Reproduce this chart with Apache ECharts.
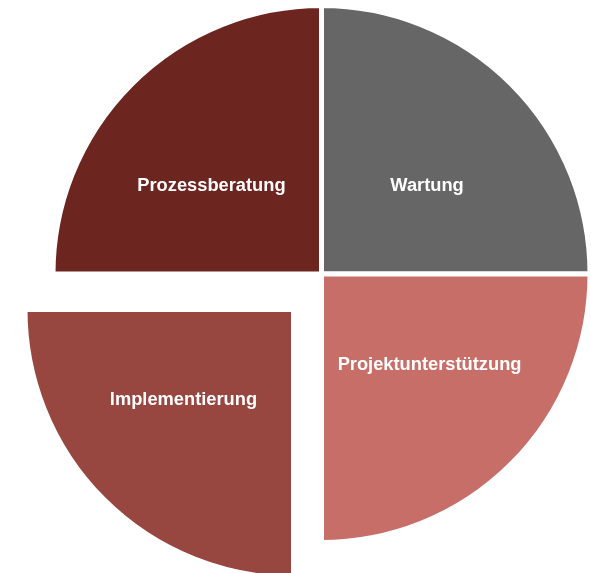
<!DOCTYPE html>
<html>
<head>
<meta charset="utf-8">
<script src="https://cdn.jsdelivr.net/npm/echarts@6/dist/echarts.min.js"></script>
<style>
html,body{margin:0;padding:0;background:#fff;}
#chart{width:591px;height:573px;}
</style>
</head>
<body>
<div id="chart"></div>
<script>
// Data
const categories = ['Wartung', 'Projektunterstützung', 'Implementierung', 'Prozessberatung'];
const values = [25, 25, 25, 25];
const explodedCategory = 'Implementierung';

// Styles
const colors = ['#666666', '#C86E68', '#984640', '#6D2520'];
const labelDx = [8.5, 11, -13, -13];
const labelDy = [9.5, -6, -6.5, 9.5];

const chart = echarts.init(document.getElementById('chart'), null, {renderer: 'canvas'});

function buildData(showExploded) {
  return categories.map((name, i) => {
    const isExp = name === explodedCategory;
    const visible = showExploded ? isExp : !isExp;
    return {
      name: name,
      value: values[i],
      itemStyle: visible
        ? {color: colors[i], borderColor: '#ffffff', borderWidth: 5}
        : {color: 'rgba(0,0,0,0)', borderWidth: 0},
      label: {show: visible}
    };
  });
}

const commonSeries = {
  type: 'pie',
  radius: 268.5,
  startAngle: 90,
  clockwise: true,
  avoidLabelOverlap: false,
  silent: true,
  animation: false,
  label: {
    show: true,
    position: 'inside',
    color: '#ffffff',
    fontFamily: 'Liberation Sans, Arial, sans-serif',
    fontWeight: 'bold',
    fontSize: 18.3
  },
  labelLine: {show: false},
  labelLayout: function (params) {
    const i = params.dataIndex;
    return {dx: labelDx[i], dy: labelDy[i]};
  },
  emphasis: {disabled: true}
};

chart.setOption({
  backgroundColor: '#ffffff',
  animation: false,
  series: [
    Object.assign({}, commonSeries, {center: [321.5, 274], data: buildData(false)}),
    Object.assign({}, commonSeries, {center: [293.5, 309.5], data: buildData(true)})
  ]
});
</script>
</body>
</html>
